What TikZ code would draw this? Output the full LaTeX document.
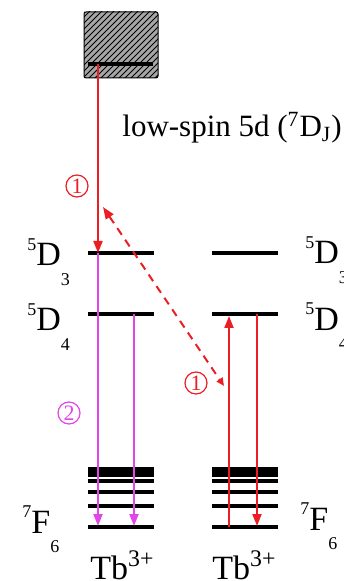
\documentclass[tikz,border=0pt]{standalone}
\usepackage{fontspec}
\setmainfont{Liberation Serif}
\usetikzlibrary{arrows.meta, patterns, positioning}
\definecolor{tbred}{RGB}{235,30,35}
\definecolor{tbmag}{RGB}{225,70,230}
\newcommand{\term}[3]{\raisebox{0.45em}{\fontsize{9}{9}\selectfont #1}#2\raisebox{-0.58em}{\fontsize{9}{9}\selectfont #3}}

\begin{document}
\begin{tikzpicture}[x=0.5pt, y=-0.5pt]
    \tikzstyle{level} = [line width=2pt, black]
    \tikzstyle{trans} = [line width=1pt, -{Triangle[length=6pt,width=4.5pt]}]
    \tikzstyle{term}  = [inner sep=0pt, anchor=base west, font=\fontsize{17}{17}\selectfont]
    \tikzstyle{ring}  = [circle, draw, line width=0.6pt, inner sep=0pt, minimum size=11pt,
                         font=\fontsize{11}{11}\selectfont]

    \useasboundingbox (0,0) rectangle (343,581);

    \fill[gray!70, rounded corners=1pt] (84,12) rectangle (158,78);
    \fill[pattern=north east lines, pattern color=black] (84,12) rectangle (158,78);
    \draw[line width=0.5pt, rounded corners=1pt] (84,12) rectangle (158,78);
    \draw[line width=1.6pt] (88,64) -- (153,64);

    \foreach \x in {88,212} {
        \draw[level] (\x,253) -- ++(66,0);
        \draw[level] (\x,314) -- ++(66,0);
        \fill (\x,467) rectangle ++(66,10);
        \foreach \y in {481,492,506,527}
            \draw[level] (\x,\y) -- ++(66,0);
    }

    \coordinate (top) at (98,64);
    \coordinate (d3a) at (98,253);
    \coordinate (f6a) at (98,526);
    \coordinate (d4b) at (134,314);
    \coordinate (f6b) at (134,526);
    \coordinate (f6c) at (229,527);
    \coordinate (d4c) at (229,316);
    \coordinate (d4d) at (257,314);
    \coordinate (f6d) at (257,526);
    \coordinate (tx1) at (103,207);
    \coordinate (tx2) at (224,386);

    \draw[trans, tbred] (top) -- (d3a);
    \draw[trans, tbmag] (d3a) -- (f6a);
    \draw[trans, tbmag] (d4b) -- (f6b);
    \draw[trans, tbred] (f6c) -- (d4c);
    \draw[trans, tbred] (d4d) -- (f6d);
    \draw[line width=1pt, tbred, dash pattern=on 4pt off 3pt,
          {Triangle[length=6pt,width=4.5pt]}-{Triangle[length=4pt,width=3.5pt]}] (tx1) -- (tx2);

    \node[ring, tbred] (one)  at (77,186)  {1};
    \node[ring, tbmag] (two)  at (69,413)  {2};
    \node[ring, tbred] (oneb) at (196,383) {1};

    \node[inner sep=0pt, anchor=base west, font=\fontsize{15.5}{15.5}\selectfont] (band)
        at (122,137) {low-spin 5d (\textsuperscript{7}D\textsubscript{J})};

    \node[term] (d3l) at (27,266)  {\term{5}{D}{3}};
    \node[term] (d4l) at (27,331)  {\term{5}{D}{4}};
    \node[term] (f6l) at (22,533)  {\term{7}{F}{6}};
    \node[term] (d3r) at (305,264) {\term{5}{D}{3}};
    \node[term] (d4r) at (305,330) {\term{5}{D}{4}};
    \node[term] (f6r) at (300,530) {\term{7}{F}{6}};

    \node[term] (tbl) at (90,579)  {Tb\textsuperscript{3+}};
    \node[term] (tbr) at (212,579) {Tb\textsuperscript{3+}};
\end{tikzpicture}
\end{document}
